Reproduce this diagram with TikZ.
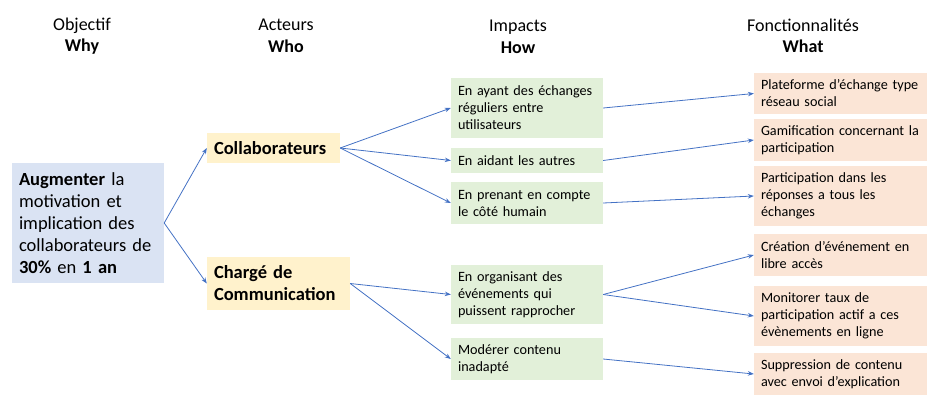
\documentclass[tikz,border=0pt]{standalone}
\usepackage{fontspec}
\setmainfont{Carlito}
\usetikzlibrary{arrows.meta}
\definecolor{objcol}{HTML}{DAE3F3}
\definecolor{actcol}{HTML}{FFF2CC}
\definecolor{impcol}{HTML}{E2F0D9}
\definecolor{fctcol}{HTML}{FBE5D6}
\definecolor{arrcol}{HTML}{4472C4}

\begin{document}
\begin{tikzpicture}[x=1pt,y=-1pt,>={Stealth[length=6pt,width=4.5pt]},
  hdr/.style={align=center,font=\fontsize{18}{21.5}\selectfont},
  box/.style={align=left,inner xsep=7pt,inner ysep=0pt},
  objbox/.style={box,fill=objcol,text width=138pt,minimum height=120pt,font=\fontsize{18.5}{22}\selectfont},
  actbox/.style={box,fill=actcol,font=\fontsize{18.5}{22}\selectfont\bfseries},
  impbox/.style={box,fill=impcol,text width=138pt,font=\fontsize{14.2}{17}\selectfont},
  fctbox/.style={box,fill=fctcol,text width=159pt,font=\fontsize{14.2}{17}\selectfont},
  link/.style={->,arrcol,line width=0.8pt}]
\useasboundingbox (0,0) rectangle (952,410);
\node[hdr] (why) at (82,36) {Objectif\\\textbf{Why}};
\node[hdr] (who) at (286,36) {Acteurs\\\textbf{Who}};
\node[hdr] (how) at (518,37) {Impacts\\\textbf{How}};
\node[hdr] (what) at (803,36) {Fonctionnalités\\\textbf{What}};
\node[objbox] (obj) at (88,223) {\textbf{Augmenter} la\\motivation et\\implication des\\collaborateurs de\\\textbf{30\%} en \textbf{1 an}};
\node[actbox,text width=119pt,minimum height=30pt] (collab) at (273.5,148) {Collaborateurs};
\node[actbox,text width=129pt,minimum height=53pt] (charge) at (278.5,283.5) {Chargé de\\Communication};
\node[impbox,minimum height=60pt] (imp1) at (527,108) {En ayant des échanges\\réguliers entre\\utilisateurs};
\node[impbox,minimum height=25pt] (imp2) at (527,160.5) {En aidant les autres};
\node[impbox,minimum height=42pt] (imp3) at (527,203) {En prenant en compte\\le côté humain};
\node[impbox,minimum height=59pt] (imp4) at (527,294.5) {En organisant des\\événements qui\\puissent rapprocher};
\node[impbox,minimum height=42pt] (imp5) at (527,359) {Modérer contenu\\inadapté};
\node[fctbox,minimum height=41pt] (fct1) at (840.5,93.5) {Plateforme d’échange type\\réseau social};
\node[fctbox,minimum height=42pt] (fct2) at (840.5,140) {Gamification concernant la\\participation};
\node[fctbox,minimum height=60pt] (fct3) at (840.5,196) {Participation dans les\\réponses a tous les\\échanges};
\node[fctbox,minimum height=42pt] (fct4) at (840.5,255) {Création d’événement en\\libre accès};
\node[fctbox,minimum height=60pt] (fct5) at (840.5,316) {Monitorer taux de\\participation actif a ces\\évènements en ligne};
\node[fctbox,minimum height=42pt] (fct6) at (840.5,374) {Suppression de contenu\\avec envoi d’explication};
\draw[link] (obj.east) -- (collab.west);
\draw[link] (obj.east) -- (charge.west);
\draw[link] (collab.east) -- (imp1.west);
\draw[link] (collab.east) -- (imp2.west);
\draw[link] (collab.east) -- (imp3.west);
\draw[link] (charge.east) -- (imp4.west);
\draw[link] (charge.east) -- (imp5.west);
\draw[link] (imp1.east) -- (fct1.west);
\draw[link] (imp2.east) -- (fct2.west);
\draw[link] (imp3.east) -- (fct3.west);
\draw[link] (imp4.east) -- (fct4.west);
\draw[link] (imp4.east) -- (fct5.west);
\draw[link] (imp5.east) -- (fct6.west);
\end{tikzpicture}
\end{document}
